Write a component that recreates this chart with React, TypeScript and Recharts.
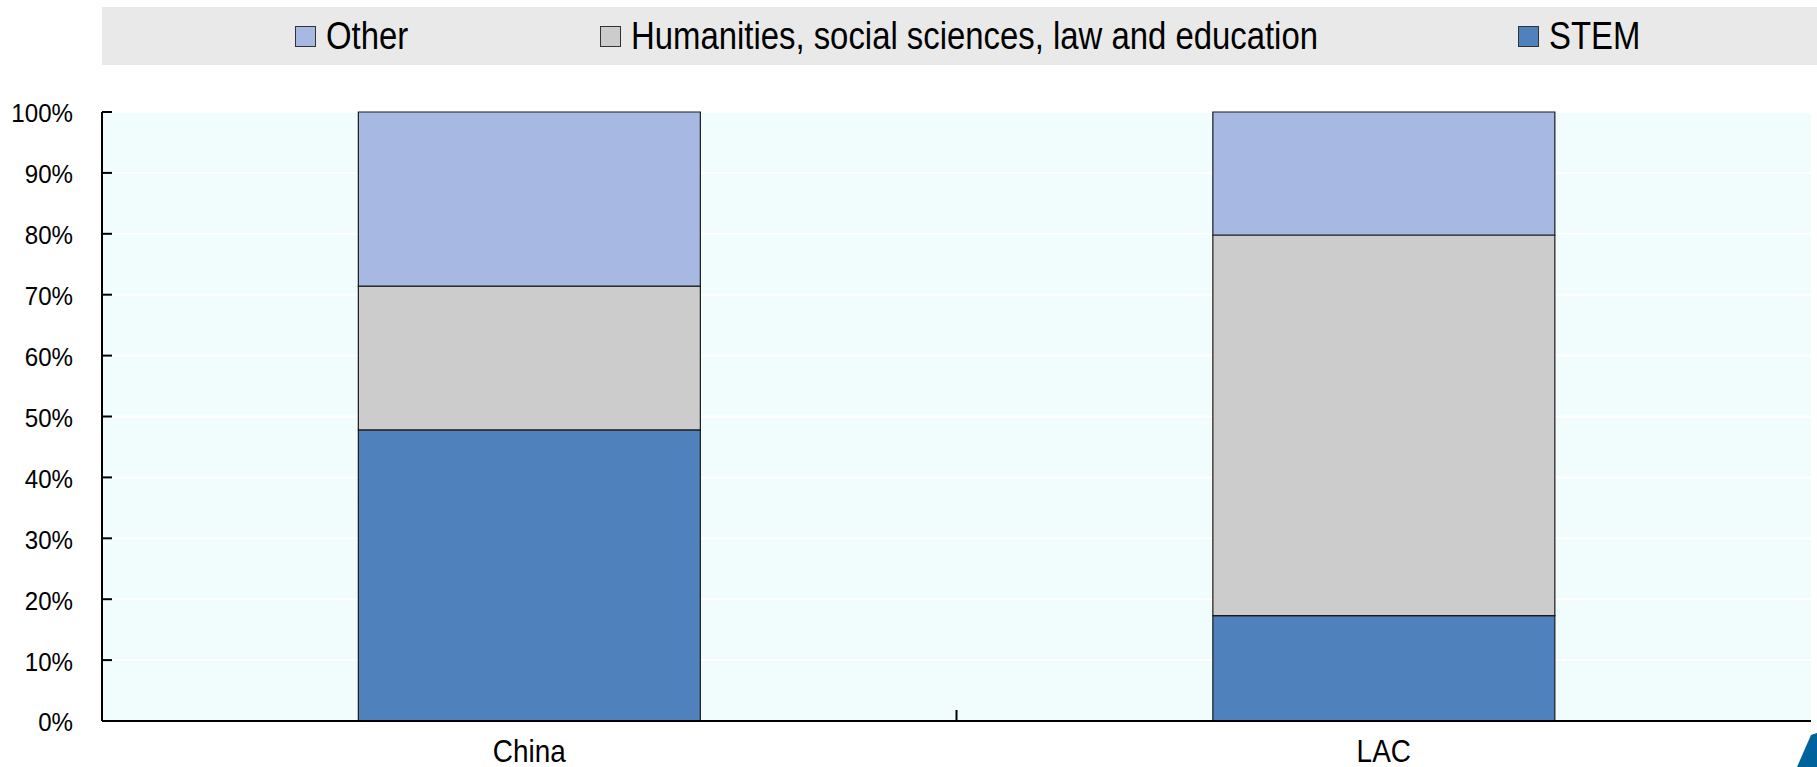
import { BarChart, Bar, XAxis, YAxis, CartesianGrid } from 'recharts';

// Share of tertiary graduates by field, %
const countries = ['China', 'LAC'];
const stem = [47.8, 17.3];
const humanities = [23.6, 62.5];
const other = [28.6, 20.2];
const yTicks = [0, 10, 20, 30, 40, 50, 60, 70, 80, 90, 100];

const series = [
  { key: 'other', name: 'Other', color: '#A7B9E3' },
  { key: 'humanities', name: 'Humanities, social sciences, law and education', color: '#CCCCCC' },
  { key: 'stem', name: 'STEM', color: '#4F81BD' },
];

const data = countries.map((c, i) => ({
  country: c,
  stem: stem[i],
  humanities: humanities[i],
  other: other[i],
}));

const W = 1817;
const H = 767;
const MARGIN = { top: 112, right: 6, bottom: 0, left: 0 };
const Y_W = 102;
const X_H = 46;
const PLOT_W = W - MARGIN.left - MARGIN.right - Y_W;
const FONT = "'Liberation Sans', Arial, sans-serif";
// legend item left edges (square), in px
const LEGEND_X = [295, 600, 1518];

const YTick = (props: any) => {
  const { x, y, payload } = props;
  return (
    <g>
      <line x1={x} x2={x + 10} y1={y} y2={y} stroke="#000" strokeWidth={2} />
      <text
        transform={`translate(${x - 29},${y + 1}) scale(0.91,1)`}
        textAnchor="end"
        dominantBaseline="central"
        fontSize={26.5}
        fontFamily={FONT}
        fill="#000"
      >
        {payload.value}%
      </text>
    </g>
  );
};

const XTick = (props: any) => {
  const { x, y, payload, index } = props;
  const band = PLOT_W / countries.length;
  return (
    <g>
      {index < countries.length - 1 && (
        <line x1={x + band / 2} x2={x + band / 2} y1={y - 1} y2={y - 11} stroke="#000" strokeWidth={2} />
      )}
      <text
        transform={`translate(${x},${y + 41}) scale(0.9,1)`}
        textAnchor="middle"
        fontSize={31}
        fontFamily={FONT}
        fill="#000"
      >
        {payload.value}
      </text>
    </g>
  );
};

const LegendBox = () => (
  <div
    style={{
      position: 'absolute',
      top: 7,
      left: 102,
      width: W - 102,
      height: 58,
      background: '#E9E9E9',
      fontFamily: FONT,
      fontSize: 38,
      color: '#000',
    }}
  >
    {series.map((s, i) => (
      <div key={s.key}>
        <span
          style={{
            position: 'absolute',
            left: LEGEND_X[i] - 102,
            top: 19,
            width: 19,
            height: 19,
            background: s.color,
            border: '1.5px solid #333',
          }}
        />
        <span
          style={{
            position: 'absolute',
            left: LEGEND_X[i] - 102 + 31,
            top: 0,
            height: 58,
            lineHeight: '58px',
            whiteSpace: 'nowrap',
            transform: 'scale(0.865,1)',
            transformOrigin: 'left center',
          }}
        >
          {s.name}
        </span>
      </div>
    ))}
  </div>
);

export default function App() {
  return (
    <div style={{ position: 'absolute', left: 0, top: 0, width: W, height: H, background: '#fff' }}>
      <LegendBox />
      <BarChart width={W} height={H} data={data} margin={MARGIN} barCategoryGap="30%">
        <CartesianGrid vertical={false} stroke="#FFFFFF" strokeWidth={2} fill="#F1FDFD" />
        <XAxis
          dataKey="country"
          height={X_H}
          axisLine={{ stroke: '#000', strokeWidth: 2 }}
          tickLine={false}
          tickSize={0}
          tickMargin={0}
          tick={<XTick />}
          interval={0}
        />
        <XAxis xAxisId="top" orientation="top" height={0} tick={false} tickLine={false} axisLine={{ stroke: '#000', strokeWidth: 2 }} />
        <YAxis
          width={Y_W}
          domain={[0, 100]}
          ticks={yTicks}
          axisLine={{ stroke: '#000', strokeWidth: 2 }}
          tickLine={false}
          tickSize={0}
          tickMargin={0}
          tick={<YTick />}
          interval={0}
        />
        <YAxis yAxisId="right" orientation="right" width={0} domain={[0, 100]} tick={false} tickLine={false} axisLine={{ stroke: '#000', strokeWidth: 2 }} />
        <Bar dataKey="stem" stackId="a" fill="#4F81BD" stroke="#1a1a1a" strokeWidth={1.2} isAnimationActive={false} />
        <Bar dataKey="humanities" stackId="a" fill="#CCCCCC" stroke="#1a1a1a" strokeWidth={1.2} isAnimationActive={false} />
        <Bar dataKey="other" stackId="a" fill="#A7B9E3" stroke="#1a1a1a" strokeWidth={1.2} isAnimationActive={false} />
      </BarChart>
      {/* corner logo fragment */}
      <svg style={{ position: 'absolute', left: 0, top: 0 }} width={W} height={H} pointerEvents="none">
        <polygon points="1811,735 1817,733 1817,767 1797,767" fill="#00629B" />
      </svg>
    </div>
  );
}
